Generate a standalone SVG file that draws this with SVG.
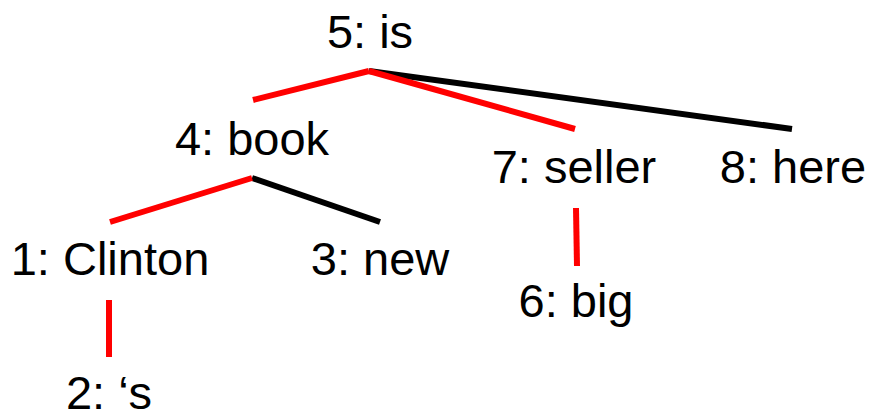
<svg xmlns="http://www.w3.org/2000/svg" width="870" height="413" viewBox="0 0 870 413">
  <style>
    .lbl { font-family: "Liberation Sans", Arial, sans-serif; font-size: 47px; fill: #000; text-anchor: middle; }
    .head { stroke: #ff0000; stroke-width: 6; fill: none; }
    .dep { stroke: #000; stroke-width: 6; fill: none; }
  </style>
  <rect width="870" height="413" fill="#fff"/>
  <g id="connectors">
    <line class="dep" x1="369" y1="71" x2="792" y2="129"/>
    <line class="head" x1="253" y1="100" x2="369" y2="71"/>
    <line class="head" x1="369" y1="71" x2="575" y2="129"/>
    <line class="dep" x1="252" y1="178" x2="380" y2="222"/>
    <line class="head" x1="110" y1="222" x2="252" y2="178"/>
    <line class="head" x1="109" y1="300" x2="109" y2="357"/>
    <line class="head" x1="576" y1="208" x2="577" y2="266"/>
  </g>
  <g id="n5"><text class="lbl" x="370" y="48">5: is</text></g>
  <g id="n4"><text class="lbl" x="252" y="155">4: book</text></g>
  <g id="n1"><text class="lbl" x="110" y="275">1: Clinton</text></g>
  <g id="n3"><text class="lbl" x="380" y="275">3: new</text></g>
  <g id="n2"><text class="lbl" x="109" y="409">2: ‘s</text></g>
  <g id="n7"><text class="lbl" x="574" y="183">7: seller</text></g>
  <g id="n8"><text class="lbl" x="793" y="183">8: here</text></g>
  <g id="n6"><text class="lbl" x="576" y="317">6: big</text></g>
</svg>
